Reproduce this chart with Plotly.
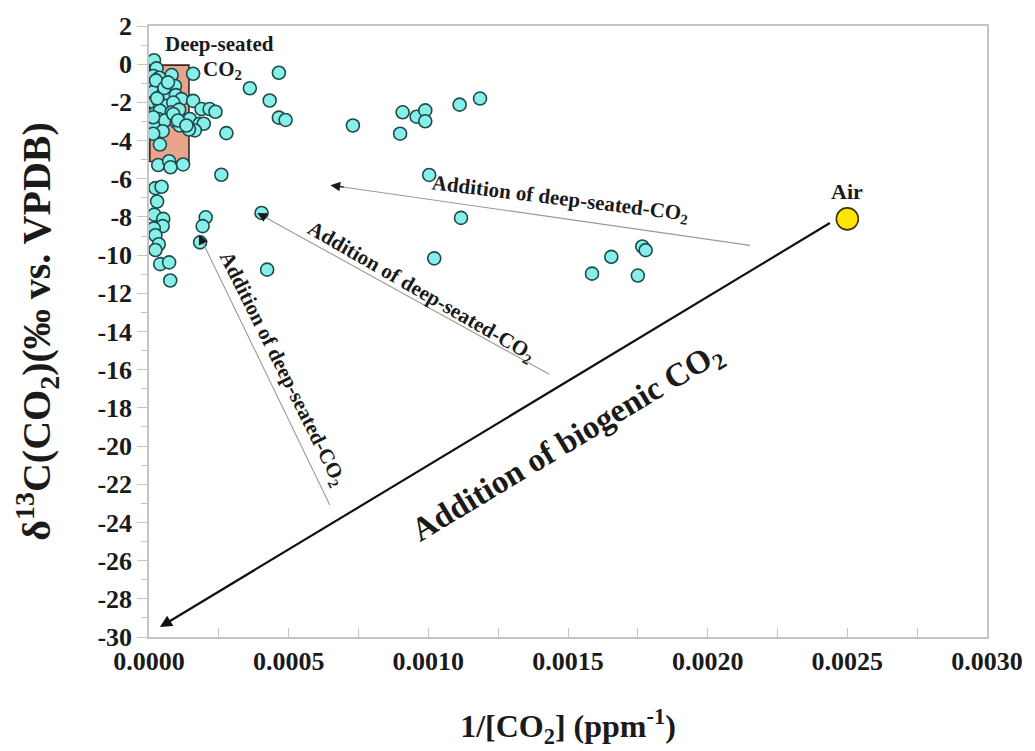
import plotly.graph_objects as go

# Soil-gas samples: inverse CO2 concentration (1/ppm) and d13C of CO2 (permil vs VPDB)
inv_co2 = [
    0.000018, 0.000027, 0.000081, 0.000158, 0.000015, 0.000037, 0.000015, 0.000093,
    0.000015, 0.000049, 0.000075, 0.000096, 0.000116, 0.000158, 0.000018, 0.000039,
    0.000063, 0.000087, 0.000188, 0.000217, 0.000238, 0.000018, 0.000039, 0.000081,
    0.000108, 0.000033, 0.000057, 0.000099, 0.000110, 0.000146, 0.000181, 0.000196,
    0.000015, 0.000164, 0.000143, 0.000049, 0.000015, 0.000039, 0.000033, 0.000072,
    0.000077, 0.000122, 0.000087, 0.000015, 0.000104, 0.000134, 0.000025, 0.000029,
    0.000055, 0.000068,
    0.000361, 0.000432, 0.000465, 0.000465, 0.000489, 0.000277, 0.000259,
    0.000023, 0.000045, 0.000029, 0.000019, 0.000051, 0.000049, 0.000017, 0.000023,
    0.000035, 0.000023, 0.000040, 0.000072, 0.000076, 0.000203, 0.000192, 0.000183,
    0.000403, 0.000423,
    0.000730, 0.000908, 0.000958, 0.000989, 0.000989, 0.000899, 0.001112, 0.001185,
    0.001003, 0.001117, 0.001021, 0.001655, 0.001766, 0.001778, 0.001586, 0.001750,
]
d13c = [
    0.21, -0.22, -0.57, -0.50, -0.62, -0.71, -1.05, -1.14,
    -1.45, -1.57, -1.66, -1.62, -1.83, -1.92, -2.01, -2.12,
    -2.18, -2.01, -2.35, -2.35, -2.49, -2.61, -2.44, -2.52,
    -2.38, -2.87, -2.95, -3.04, -3.21, -2.87, -3.12, -3.12,
    -3.21, -3.47, -3.42, -3.51, -3.64, -4.21, -5.28, -5.08,
    -5.40, -5.25, -2.61, -2.78, -2.95, -3.21, -0.85, -1.79,
    -1.25, -0.95,
    -1.26, -1.90, -0.45, -2.80, -2.92, -3.61, -5.79,
    -6.49, -6.42, -7.19, -7.88, -8.10, -8.48, -8.60, -8.96,
    -9.43, -9.73, -10.47, -10.38, -11.33, -8.02, -8.48, -9.33,
    -7.79, -10.76,
    -3.21, -2.52, -2.75, -2.42, -2.99, -3.64, -2.12, -1.80,
    -5.80, -8.05, -10.17, -10.09, -9.55, -9.74, -10.97, -11.07,
]

# Atmospheric end-member
air_inv_co2 = [0.0025]
air_d13c = [-8.1]

# Deep-seated CO2 field (x0, x1, y0, y1)
deep_box_x = [0.000003, 0.000143]
deep_box_y = [-5.1, -0.05]

# Mixing trends: (head x, head y, tail x, tail y)
biogenic_trend = [0.000039, -29.48, 0.002443, -8.27]
deep_trends = [
    [0.00065, -6.34, 0.002157, -9.50],
    [0.000388, -7.79, 0.001438, -16.28],
    [0.000179, -8.93, 0.00065, -23.17],
]

# Trend labels: (x, y, rotation)
deep_label_pos = [
    [0.001473, -7.05, 7.0],
    [0.000975, -11.93, 30],
    [0.000477, -15.97, 63.5],
]
biogenic_label_pos = [0.001498, -19.85, -31]

x_ticks = [0.0, 0.0005, 0.0010, 0.0015, 0.0020, 0.0025, 0.0030]
x_tick_text = ["0.0000", "0.0005", "0.0010", "0.0015", "0.0020", "0.0025", "0.0030"]
y_ticks = list(range(2, -31, -2))
y_tick_text = [str(v) for v in y_ticks]

SERIF = "Liberation Serif"
AXIS_GREY = "#c4c4c4"
INK = "#1a1a1a"

fig = go.Figure()

fig.add_shape(
    type="rect", xref="x", yref="y",
    x0=deep_box_x[0], x1=deep_box_x[1], y0=deep_box_y[0], y1=deep_box_y[1],
    fillcolor="#eba48c", line=dict(color="#3a2a24", width=1.6), layer="below",
)

fig.add_trace(go.Scatter(
    x=inv_co2, y=d13c, mode="markers",
    marker=dict(size=13, color="#86efea", line=dict(color="#1e4a4a", width=1.6)),
    showlegend=False, hoverinfo="skip",
))
fig.add_trace(go.Scatter(
    x=air_inv_co2, y=air_d13c, mode="markers",
    marker=dict(size=22, color="#ffe600", line=dict(color="#3a3300", width=1.6)),
    showlegend=False, hoverinfo="skip",
))

annotations = []

# Biogenic mixing line (bold black arrow)
hx, hy, tx, ty = biogenic_trend
annotations.append(dict(
    x=hx, y=hy, ax=tx, ay=ty, xref="x", yref="y", axref="x", ayref="y",
    text="", showarrow=True, arrowhead=2, arrowsize=1.1, arrowwidth=2.2,
    arrowcolor="#111111", standoff=0, startstandoff=0,
))

# Deep-seated mixing lines: thin grey shafts with dark heads
for hx, hy, tx, ty in deep_trends:
    annotations.append(dict(
        x=hx, y=hy, ax=tx, ay=ty, xref="x", yref="y", axref="x", ayref="y",
        text="", showarrow=True, arrowhead=0, arrowwidth=1.1,
        arrowcolor="#9a9a9a", standoff=0,
    ))
    f = 0.035
    annotations.append(dict(
        x=hx, y=hy, ax=hx + f * (tx - hx), ay=hy + f * (ty - hy),
        xref="x", yref="y", axref="x", ayref="y",
        text="", showarrow=True, arrowhead=2, arrowsize=1.6, arrowwidth=1.2,
        arrowcolor=INK, standoff=0,
    ))

for lx, ly, ang in deep_label_pos:
    annotations.append(dict(
        x=lx, y=ly, xref="x", yref="y", showarrow=False, textangle=ang,
        text="Addition of deep-seated-CO<sub>2</sub>",
        font=dict(family=SERIF, size=21, color=INK, weight="bold"),
        xanchor="center", yanchor="middle",
    ))

annotations.append(dict(
    x=biogenic_label_pos[0], y=biogenic_label_pos[1], xref="x", yref="y",
    showarrow=False, textangle=biogenic_label_pos[2],
    text="Addition of biogenic CO<sub>2</sub>",
    font=dict(family=SERIF, size=33, color=INK, weight="bold"),
    xanchor="center", yanchor="middle",
))

annotations.append(dict(
    x=air_inv_co2[0], y=air_d13c[0] + 1.45, xref="x", yref="y", showarrow=False,
    text="Air", font=dict(family=SERIF, size=22, color=INK, weight="bold"),
    xanchor="center", yanchor="middle",
))
annotations.append(dict(
    x=0.000253, y=1.05, xref="x", yref="y", showarrow=False,
    text="Deep-seated", font=dict(family=SERIF, size=21, color=INK, weight="bold"),
    xanchor="center", yanchor="middle",
))
annotations.append(dict(
    x=0.000262, y=-0.3, xref="x", yref="y", showarrow=False,
    text="CO<sub>2</sub>", font=dict(family=SERIF, size=21, color=INK, weight="bold"),
    xanchor="center", yanchor="middle",
))

fig.update_layout(
    width=1035, height=751,
    margin=dict(l=149, r=44, t=19, b=114),
    paper_bgcolor="white", plot_bgcolor="white",
    annotations=annotations,
    font=dict(family=SERIF, color=INK),
)

fig.update_xaxes(
    range=[0, 0.003], tickvals=x_ticks, ticktext=x_tick_text,
    showgrid=False, zeroline=False, showline=True, linecolor=AXIS_GREY, linewidth=1.5,
    mirror=True, ticks="inside", ticklen=9, tickcolor=AXIS_GREY, tickwidth=1.2,
    minor=dict(dtick=0.00025, ticks="inside", ticklen=9, tickcolor=AXIS_GREY, tickwidth=1.2),
    tickfont=dict(family=SERIF, size=26, color=INK, weight="bold"),
    title=dict(text="1/[CO<sub>2</sub>] (ppm<sup>-1</sup>)", standoff=40,
               font=dict(family=SERIF, size=32, color=INK, weight="bold")),
)
fig.update_yaxes(
    range=[-30, 2], tickvals=y_ticks, ticktext=y_tick_text,
    showgrid=False, zeroline=False, showline=True, linecolor=AXIS_GREY, linewidth=1.5,
    mirror=True, ticks="outside", ticklen=10, tickcolor=AXIS_GREY, tickwidth=1.2,
    minor=dict(dtick=1, ticks="outside", ticklen=6, tickcolor=AXIS_GREY, tickwidth=1.2),
    tickfont=dict(family=SERIF, size=26, color=INK, weight="bold"),
    title=dict(text="δ<sup>13</sup>C(CO<sub>2</sub>)(‰ vs. VPDB)", standoff=34,
               font=dict(family=SERIF, size=40, color=INK, weight="bold")),
)

fig.write_html("out.html")
